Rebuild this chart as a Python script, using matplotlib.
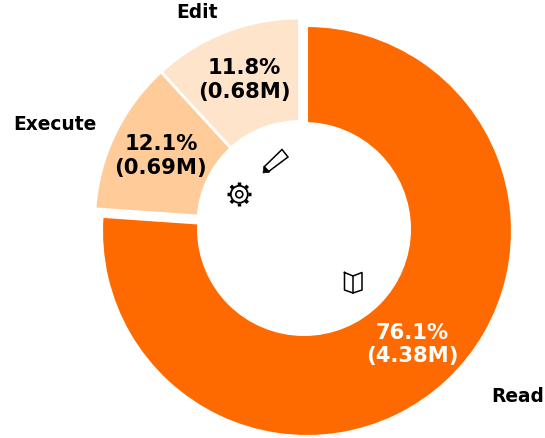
import matplotlib
matplotlib.use("Agg")
import matplotlib.pyplot as plt
from matplotlib.path import Path
from matplotlib.patches import PathPatch, Circle
import numpy as np

labels = ["Read", "Execute", "Edit"]
shares = [76.1, 12.1, 11.8]
millions = [4.38, 0.69, 0.68]
colors = ["#ff6a00", "#ffcc99", "#ffe4cc"]

fig = plt.figure(figsize=(5.45, 4.38), dpi=100)
ax = fig.add_axes([0, 0, 1, 1])

wedges, _ = ax.pie(
    shares,
    colors=colors,
    startangle=90,
    counterclock=False,
    radius=205,
    center=(307, 438 - 231),
    wedgeprops=dict(width=105, edgecolor="white", linewidth=1.5),
    frame=True,
)
# the two small slices are pulled out together, up and to the left
for w in wedges[1:]:
    w.set_center((299.5, 438 - 223))
    w.set_radius(205)
    w.set_width(103.5)
    w.set_linewidth(2)
    w.set_zorder(3)
# hole of the big slice sits a little off centre
ax.add_patch(Circle((304, 438 - 229), 107, fc="white", ec="none", zorder=2))
ax.set_xlim(0, 545)
ax.set_ylim(0, 438)
ax.set_aspect("equal")
ax.axis("off")

def y(v):
    return 438 - v

ax.text(197, y(12), "Edit", ha="center", va="center", fontsize=13.4, fontweight="bold", zorder=5)
ax.text(55, y(124), "Execute", ha="center", va="center", fontsize=13.4, fontweight="bold", zorder=5)
ax.text(518, y(396), "Read", ha="center", va="center", fontsize=13.4, fontweight="bold", zorder=5)

pct_pos = [(412, 344.5), (161, 156), (244, 80)]
pct_col = ["white", "black", "black"]
for s, m, p, c in zip(shares, millions, pct_pos, pct_col):
    ax.text(p[0], y(p[1]), f"{s}%\n({m}M)", ha="center", va="center",
            fontsize=15.2, fontweight="bold", color=c, linespacing=1.2, zorder=5)

# book icon
ax.plot([344.5, 344.5, 353, 362, 362, 353, 344.5], [y(v) for v in [272.5, 290, 293, 290, 272.5, 276, 272.5]], color="black", lw=1.1, zorder=5)
ax.plot([353, 353], [y(276), y(293)], color="black", lw=1.1, zorder=5)

# pencil icon
ax.add_patch(PathPatch(Path([(264, y(167)), (282, y(149.5)), (288, y(157)), (268, y(172)), (264, y(167))]),
                       fc="white", ec="black", lw=1.1, zorder=5))
ax.add_patch(PathPatch(Path([(264, y(166)), (263, y(173)), (270, y(172)), (264, y(166))]), fc="black", ec="black", lw=0.5, zorder=5))

# gear icon
ax.add_patch(Circle((239.3, y(194.3)), 8.5, fc="white", ec="black", lw=1.3, zorder=5))
ax.add_patch(Circle((239.3, y(194.3)), 3.5, fc="white", ec="black", lw=1.2, zorder=5))
for a in np.arange(0, 360, 45):
    r = np.radians(a)
    ax.plot([239.3 + 9 * np.cos(r), 239.3 + 12 * np.cos(r)], [y(194.3) + 9 * np.sin(r), y(194.3) + 12 * np.sin(r)],
            color="black", lw=2.5, solid_capstyle="butt", zorder=5)

fig.savefig("out.png", dpi=100)
